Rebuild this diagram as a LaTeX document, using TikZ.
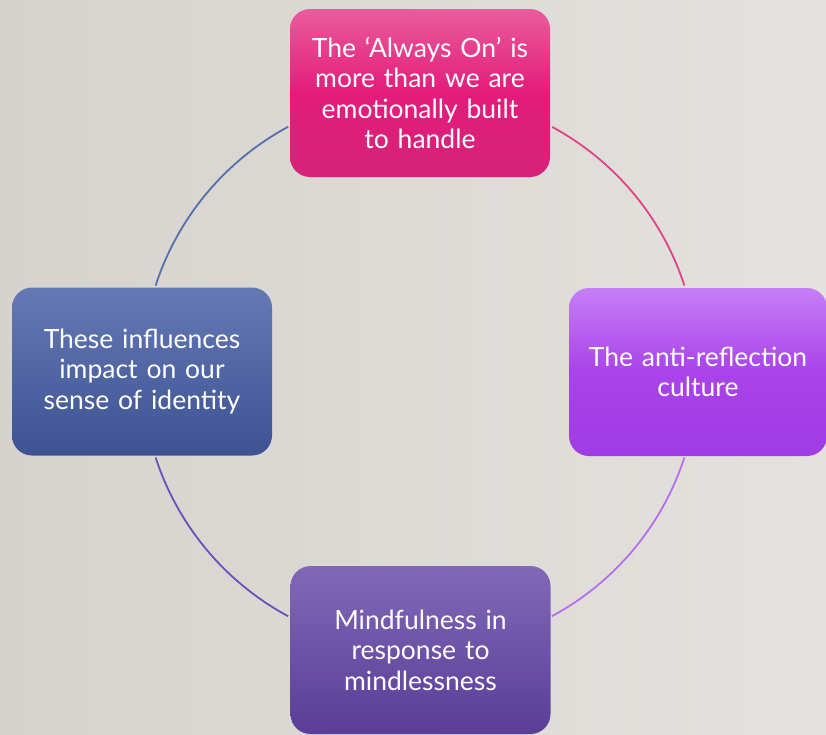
\documentclass[tikz,border=0pt]{standalone}
\usepackage{fontspec}
\setmainfont{Lato}
\usetikzlibrary{calc}
\begin{document}
\begin{tikzpicture}[x=1pt,y=-1pt,
  card/.style={rounded corners=20pt, minimum width=260pt, minimum height=168pt,
    text width=245pt, align=center, text=white, inner sep=0pt,
    font=\fontsize{26.5}{30.5}\selectfont},
  link/.style={line width=1.8pt}]
\definecolor{bgL}{HTML}{D6D3CE}
\definecolor{bgR}{HTML}{E4E2DE}
\definecolor{pinkT}{HTML}{EA5C9C}
\definecolor{pinkM}{HTML}{E31C7B}
\definecolor{pinkB}{HTML}{D6237A}
\definecolor{violT}{HTML}{C67EF6}
\definecolor{violM}{HTML}{A943EA}
\definecolor{violB}{HTML}{A03CE4}
\definecolor{blueT}{HTML}{6579B5}
\definecolor{blueB}{HTML}{3D5292}
\definecolor{purpT}{HTML}{8169B7}
\definecolor{purpB}{HTML}{593D97}
\definecolor{arcTL}{HTML}{5670AA}
\definecolor{arcTR}{HTML}{E0428A}
\definecolor{arcBR}{HTML}{B86DF0}
\definecolor{arcBL}{HTML}{6B50B8}
% backdrop
\useasboundingbox (0,0) rectangle (826,734);
\shade[left color=bgL, right color=bgR] (0,0) rectangle (826,734);
% ring centre
\coordinate (c) at (420,371.5);
% arcs of the ring between the cards
\draw[link, arcTR] ($(c)+(61.6:278 and -278)$) arc[start angle=61.6, end angle=18, x radius=278, y radius=-278];
\draw[link, arcBR] ($(c)+(-18:278 and -278)$) arc[start angle=-18, end angle=-61.7, x radius=278, y radius=-278];
\draw[link, arcBL] ($(c)+(198:278 and -278)$) arc[start angle=198, end angle=241.7, x radius=278, y radius=-278];
\draw[link, arcTL] ($(c)+(162:278 and -278)$) arc[start angle=162, end angle=118.3, x radius=278, y radius=-278];
% the four cards
\node[card, top color=pinkT, bottom color=pinkB, middle color=pinkM] (top) at (420,93)
  {The ‘Always On’ is\\more than we are\\emotionally built\\to handle};
\node[card, minimum width=258pt, top color=violT, bottom color=violB, middle color=violM] (right) at (698,372)
  {The anti-reflection\\culture};
\node[card, top color=blueT, bottom color=blueB] (left) at (142,371.5)
  {These influences\\impact on our\\sense of identity};
\node[card, top color=purpT, bottom color=purpB] (bottom) at (420.5,650)
  {Mindfulness in\\response to\\mindlessness};
\end{tikzpicture}
\end{document}
